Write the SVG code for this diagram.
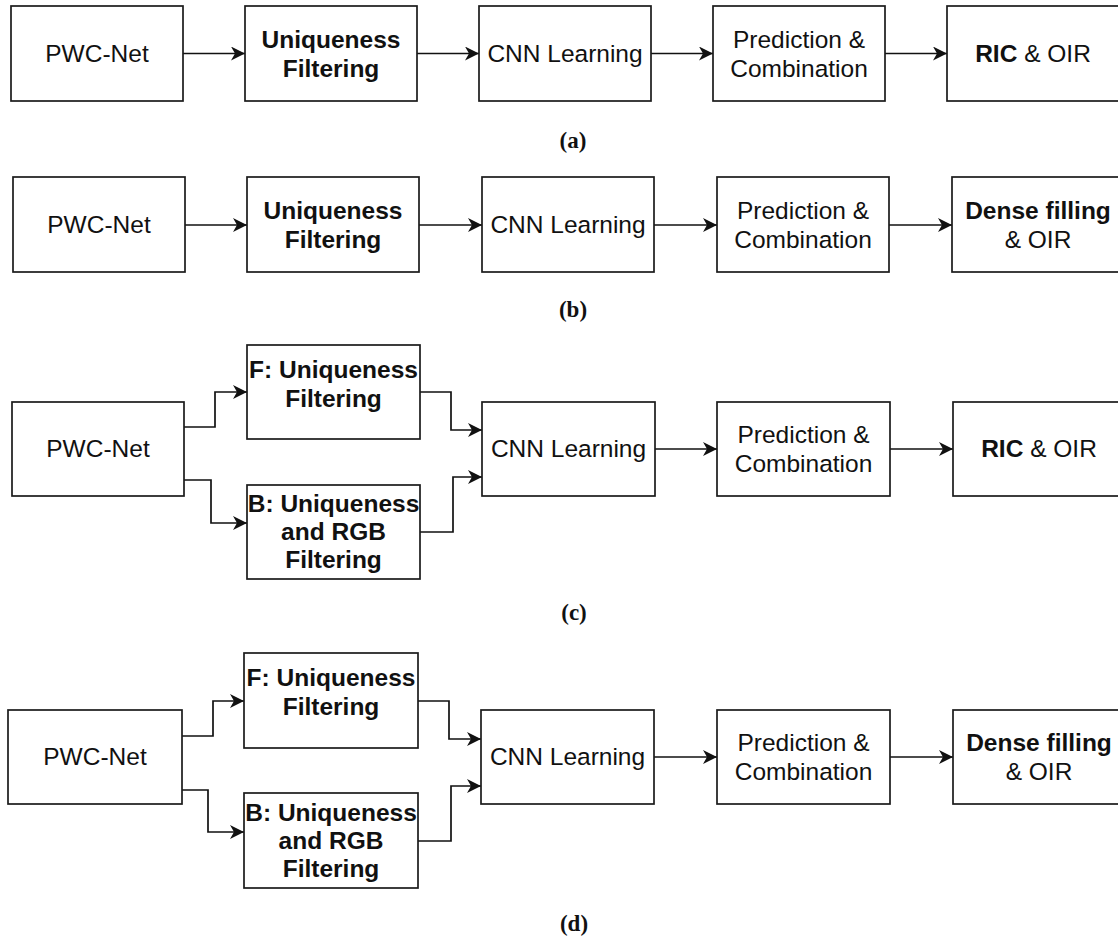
<svg xmlns="http://www.w3.org/2000/svg" width="1118" height="939" viewBox="0 0 1118 939">
<defs>
<style>
.box{fill:#fff;stroke:#1a1a1a;stroke-width:1.7}
.t{font-family:"Liberation Sans",Arial,sans-serif;font-size:24.5px;fill:#111;text-anchor:middle}
.b{font-weight:bold}
.cap{font-family:"Liberation Serif","Times New Roman",serif;font-size:23px;font-weight:bold;fill:#111;text-anchor:middle}
.c{fill:none;stroke:#111;stroke-width:1.7;marker-end:url(#arr)}
</style>
<marker id="arr" markerUnits="userSpaceOnUse" markerWidth="16" markerHeight="16" refX="14" refY="7" orient="auto">
<path d="M0,0 L14,7 L0,14 L4,7 Z" fill="#111"/>
</marker>
</defs>
<rect width="1118" height="939" fill="#fff"/>

<g id="connectors">
<path class="c" d="M183,53.5 H245"/>
<path class="c" d="M417,53.5 H479"/>
<path class="c" d="M651,53.5 H713"/>
<path class="c" d="M885,53.5 H947"/>
<path class="c" d="M185,225 H247"/>
<path class="c" d="M419,225 H482"/>
<path class="c" d="M654,225 H717"/>
<path class="c" d="M889,225 H952"/>
<path class="c" d="M184,427 H215 V392 H247"/>
<path class="c" d="M184,480 H211 V523 H247"/>
<path class="c" d="M420,392 H451 V430 H482"/>
<path class="c" d="M420,532 H453 V477 H482"/>
<path class="c" d="M655,449 H717"/>
<path class="c" d="M890,449 H953"/>
<path class="c" d="M182,736 H213 V701 H244"/>
<path class="c" d="M182,790 H208 V832 H244"/>
<path class="c" d="M418,701 H449 V739 H481"/>
<path class="c" d="M418,841 H451 V786 H481"/>
<path class="c" d="M654,757 H717"/>
<path class="c" d="M890,757 H953"/>
</g>

<g id="a-pwc"><rect class="box" x="11" y="6" width="172" height="95"/><text class="t" x="97" y="62">PWC-Net</text></g>
<g id="a-uniq"><rect class="box" x="245" y="6" width="172" height="95"/><text class="t b" x="331" y="48">Uniqueness</text><text class="t b" x="331" y="77">Filtering</text></g>
<g id="a-cnn"><rect class="box" x="479" y="6" width="172" height="95"/><text class="t" x="565" y="62">CNN Learning</text></g>
<g id="a-pred"><rect class="box" x="713" y="6" width="172" height="95"/><text class="t" x="799" y="48">Prediction &amp;</text><text class="t" x="799" y="77">Combination</text></g>
<g id="a-ric"><rect class="box" x="947" y="6" width="174" height="95"/><text class="t" x="1033" y="62"><tspan class="b">RIC</tspan> &amp; OIR</text></g>
<text class="cap" x="573" y="148">(a)</text>

<g id="b-pwc"><rect class="box" x="13" y="177" width="172" height="95"/><text class="t" x="99" y="233">PWC-Net</text></g>
<g id="b-uniq"><rect class="box" x="247" y="177" width="172" height="95"/><text class="t b" x="333" y="219">Uniqueness</text><text class="t b" x="333" y="248">Filtering</text></g>
<g id="b-cnn"><rect class="box" x="482" y="177" width="172" height="95"/><text class="t" x="568" y="233">CNN Learning</text></g>
<g id="b-pred"><rect class="box" x="717" y="177" width="172" height="95"/><text class="t" x="803" y="219">Prediction &amp;</text><text class="t" x="803" y="248">Combination</text></g>
<g id="b-dense"><rect class="box" x="952" y="177" width="174" height="95"/><text class="t b" x="1038" y="219">Dense filling</text><text class="t" x="1038" y="248">&amp; OIR</text></g>
<text class="cap" x="573" y="317">(b)</text>

<g id="c-pwc"><rect class="box" x="12" y="402" width="172" height="94"/><text class="t" x="98" y="457">PWC-Net</text></g>
<g id="c-f"><rect class="box" x="247" y="345" width="173" height="94"/><text class="t b" x="333.5" y="378">F: Uniqueness</text><text class="t b" x="333.5" y="407">Filtering</text></g>
<g id="c-b"><rect class="box" x="247" y="485" width="173" height="94"/><text class="t b" x="333.5" y="512">B: Uniqueness</text><text class="t b" x="333.5" y="540">and RGB</text><text class="t b" x="333.5" y="568">Filtering</text></g>
<g id="c-cnn"><rect class="box" x="482" y="402" width="173" height="94"/><text class="t" x="568.5" y="457">CNN Learning</text></g>
<g id="c-pred"><rect class="box" x="717" y="402" width="173" height="94"/><text class="t" x="803.5" y="443">Prediction &amp;</text><text class="t" x="803.5" y="472">Combination</text></g>
<g id="c-ric"><rect class="box" x="953" y="402" width="174" height="94"/><text class="t" x="1039" y="457"><tspan class="b">RIC</tspan> &amp; OIR</text></g>
<text class="cap" x="574" y="620">(c)</text>

<g id="d-pwc"><rect class="box" x="8" y="710" width="174" height="94"/><text class="t" x="95" y="765">PWC-Net</text></g>
<g id="d-f"><rect class="box" x="244" y="653" width="174" height="95"/><text class="t b" x="331" y="686">F: Uniqueness</text><text class="t b" x="331" y="715">Filtering</text></g>
<g id="d-b"><rect class="box" x="244" y="793" width="174" height="95"/><text class="t b" x="331" y="821">B: Uniqueness</text><text class="t b" x="331" y="849">and RGB</text><text class="t b" x="331" y="877">Filtering</text></g>
<g id="d-cnn"><rect class="box" x="481" y="710" width="173" height="94"/><text class="t" x="567.5" y="765">CNN Learning</text></g>
<g id="d-pred"><rect class="box" x="717" y="710" width="173" height="94"/><text class="t" x="803.5" y="751">Prediction &amp;</text><text class="t" x="803.5" y="780">Combination</text></g>
<g id="d-dense"><rect class="box" x="953" y="710" width="174" height="94"/><text class="t b" x="1039" y="751">Dense filling</text><text class="t" x="1039" y="780">&amp; OIR</text></g>
<text class="cap" x="574" y="931">(d)</text>
</svg>
